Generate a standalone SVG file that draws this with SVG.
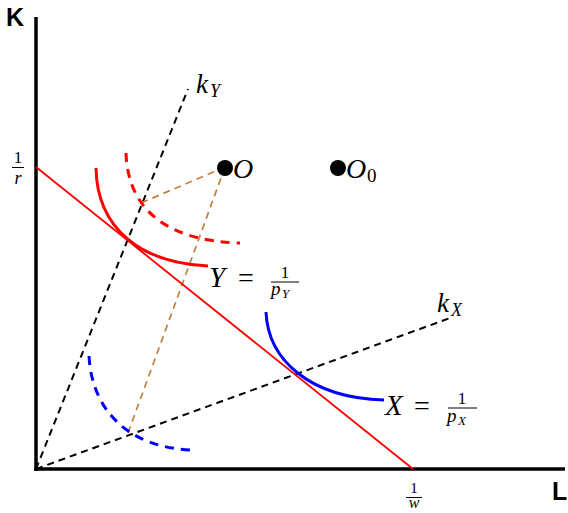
<svg xmlns="http://www.w3.org/2000/svg" width="568" height="513" viewBox="0 0 568 513">
<style>
.ax{stroke:#000;stroke-width:3.5;fill:none}
.ray{stroke:#000;stroke-width:2;stroke-dasharray:7,5;fill:none}
.br{stroke:#c08040;stroke-width:1.7;stroke-dasharray:7,5;fill:none}
.thd{stroke-width:3;stroke-dasharray:9,7;fill:none}
.m{font-family:"Liberation Serif",serif;font-style:italic;fill:#000}
.n{font-family:"Liberation Serif",serif;fill:#000}
.b{font-family:"Liberation Sans",Arial,sans-serif;font-weight:bold;fill:#000}
</style>
<rect width="568" height="513" fill="#fff"/>
<g id="axes">
<line class="ax" x1="36" y1="17" x2="36" y2="471"/>
<line class="ax" x1="34" y1="469" x2="565" y2="469"/>
<text class="b" x="6" y="26" font-size="25">K</text>
<text class="b" x="552" y="500" font-size="25">L</text>
<text class="n" x="18" y="163" font-size="17" text-anchor="middle">1</text>
<line x1="12" y1="167.5" x2="24" y2="167.5" stroke="#000" stroke-width="1"/>
<text class="m" x="18" y="184" font-size="18" text-anchor="middle">r</text>
<text class="n" x="414" y="493" font-size="15" text-anchor="middle">1</text>
<line x1="406" y1="497.5" x2="422" y2="497.5" stroke="#000" stroke-width="1"/>
<text class="m" x="414" y="508" font-size="16" text-anchor="middle">w</text>
</g>
<g id="connectors">
<line class="ray" x1="36" y1="469" x2="188" y2="89"/>
<line class="ray" x1="36" y1="469" x2="450" y2="318"/>
<line class="br" x1="225" y1="167" x2="141" y2="203"/>
<line class="br" x1="225" y1="167" x2="128" y2="433"/>
<line x1="36" y1="167" x2="413" y2="469" stroke="#ff0000" stroke-width="1.8"/>
</g>
<g id="curveY">
<path d="M96,168 C97,228 140,263 208,266" stroke="#ff0000" stroke-width="3" fill="none"/>
<path class="thd" d="M126,153 C128,212 170,241 240,243" stroke="#ff0000"/>
</g>
<g id="curveX">
<path d="M266,312 C268,360 310,398 384,400" stroke="#0000ff" stroke-width="3" fill="none"/>
<path class="thd" d="M89,356 C92,412 130,447 190,450" stroke="#0000ff"/>
</g>
<g id="kY">
<text class="m" x="196" y="93" font-size="27">k</text>
<text class="m" x="210" y="97" font-size="18">Y</text>
</g>
<g id="kX">
<text class="m" x="437" y="312" font-size="27">k</text>
<text class="m" x="451" y="316" font-size="18">X</text>
</g>
<g id="O">
<circle cx="225" cy="168" r="8" fill="#000"/>
<text class="m" x="233" y="178" font-size="28">O</text>
</g>
<g id="O0">
<circle cx="338" cy="168" r="8" fill="#000"/>
<text class="m" x="346" y="178" font-size="28">O</text>
<text class="n" x="367" y="182" font-size="19">0</text>
</g>
<g id="labelY">
<text class="m" x="209" y="287" font-size="29">Y</text>
<text class="n" x="238" y="287" font-size="28">=</text>
<text class="n" x="285" y="278" font-size="17" text-anchor="middle">1</text>
<line x1="271" y1="282" x2="299" y2="282" stroke="#000" stroke-width="1"/>
<text class="m" x="271" y="295" font-size="19">p</text>
<text class="m" x="282" y="298" font-size="13">Y</text>
</g>
<g id="labelX">
<text class="m" x="385" y="415" font-size="29">X</text>
<text class="n" x="414" y="415" font-size="28">=</text>
<text class="n" x="462" y="404" font-size="17" text-anchor="middle">1</text>
<line x1="448" y1="408" x2="477" y2="408" stroke="#000" stroke-width="1"/>
<text class="m" x="447" y="422" font-size="19">p</text>
<text class="m" x="458" y="425" font-size="13">X</text>
</g>
</svg>
